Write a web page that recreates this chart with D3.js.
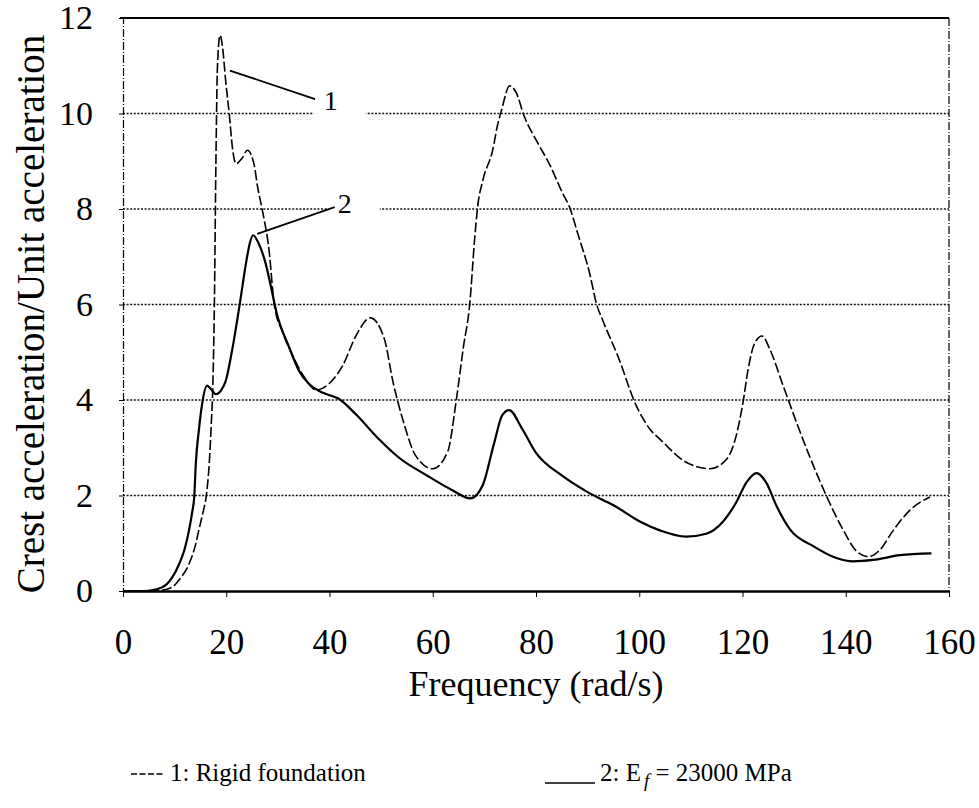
<!DOCTYPE html>
<html><head><meta charset="utf-8">
<script src="https://cdn.jsdelivr.net/npm/d3@7"></script>
<style>
html,body{margin:0;padding:0;background:#fff;}
svg{display:block;}
svg text{font-family:"Liberation Serif","Times New Roman",serif;}
</style></head><body>
<svg id="chart" width="979" height="808"></svg>
<script>
// ---- data ----
const xTicks = [0, 20, 40, 60, 80, 100, 120, 140, 160];
const yTicks = [0, 2, 4, 6, 8, 10, 12];
const xTitle = "Frequency (rad/s)";
const yTitle = "Crest acceleration/Unit acceleration";

// Series 1: rigid foundation [frequency, ratio]
const rigidSeries = [
  [0,0],[5,0],[7,0.01],[9.5,0.08],[11,0.25],[12.8,0.57],[14,0.95],[14.7,1.28],[15.5,1.65],[16.1,1.97],
  [16.7,2.66],[17.1,3.5],[17.4,4.3],[17.7,6.0],[18.0,9.0],[18.3,11.0],[18.8,11.64],[19.3,11.37],[19.9,10.67],
  [20.6,9.97],[21.2,9.28],[21.9,8.95],[23.1,9.07],[24.1,9.23],[25.4,8.93],[26,8.51],[27,7.97],[28.3,7.13],
  [29.3,6.0],[31,5.4],[33,4.9],[35,4.5],[37.5,4.21],[40,4.35],[42.6,4.73],[45.2,5.36],[47.9,5.72],[50.6,5.29],
  [52.3,4.38],[54.5,3.48],[56.6,2.85],[60,2.56],[62.9,2.92],[64.6,4.03],[65.9,5.08],[67.2,6.05],[68.1,7.35],
  [68.7,8.05],[69.7,8.6],[71.6,9.23],[72.6,9.78],[73.3,10.06],[74.9,10.58],[76.1,10.45],[77.8,9.92],[80.1,9.43],
  [82.6,8.94],[85.2,8.32],[86.5,8.04],[88.1,7.48],[90.4,6.65],[91.7,6.02],[93,5.65],[96,4.88],[99.3,3.91],
  [102,3.4],[104.4,3.14],[108.7,2.72],[113.7,2.56],[117,2.77],[118.8,3.26],[120.1,3.95],[121.1,4.65],[122.4,5.2],
  [123.8,5.34],[125.3,5.06],[127.9,4.29],[130.5,3.52],[133,2.82],[136.3,1.98],[139.5,1.28],[142.1,0.83],
  [144.4,0.72],[146.6,0.86],[149.2,1.27],[152.4,1.69],[156.3,1.97]
];

// Series 2: Ef = 23000 MPa [frequency, ratio]
const flexibleSeries = [
  [0,0],[4,0],[7.6,0.08],[9.5,0.28],[10.9,0.57],[12,0.9],[12.8,1.28],[13.4,1.65],[13.8,1.97],[14.1,2.66],
  [14.7,3.37],[15.3,3.9],[16.3,4.3],[17.1,4.22],[18,4.12],[19,4.2],[19.9,4.4],[21.2,5.08],[22.8,6.14],[23.8,6.85],
  [24.6,7.3],[25.2,7.45],[26.2,7.3],[27.7,6.83],[28.8,6.3],[29.7,5.85],[32.2,5.1],[34.1,4.61],[36.1,4.33],[38,4.19],
  [39.5,4.12],[41.7,4.03],[45.2,3.69],[49.4,3.2],[53.6,2.78],[58.7,2.43],[63.8,2.11],[67.3,1.94],[69.7,2.22],
  [71.8,3.06],[73.5,3.69],[74.8,3.79],[77.3,3.4],[79.9,2.91],[85,2.42],[90,2.07],[95.1,1.79],[100.2,1.45],
  [104,1.27],[109.1,1.14],[113,1.2],[116.2,1.45],[118.8,1.86],[120.8,2.28],[122.7,2.47],[124.6,2.27],[126.6,1.78],
  [129.2,1.29],[133.7,0.94],[138.2,0.69],[141.4,0.62],[145.3,0.65],[150.5,0.75],[156.6,0.79]
];

// curve labels: text, pointer start (on curve), pointer end, label baseline start [frequency, ratio]
const curveLabels = ["1", "2"];
const labelFrom = [[20.7, 10.9], [26.0, 7.48]];
const labelTo = [[37.2, 10.3], [41.0, 8.04]];
const labelAt = [[38.9, 10.07], [41.6, 7.92]];

const legendText1 = "1:  Rigid foundation";
const legendText2a = "2:  E";
const legendText2sub = "f";
const legendText2b = " =  23000 MPa";

// ---- drawing ----
const FONT = "Liberation Serif";
const svg = d3.select("#chart");
const x = d3.scaleLinear().domain([0, 160]).range([123, 949]);
const y = d3.scaleLinear().domain([0, 12]).range([591, 18]);

// gridlines
const grid = svg.append("g");
grid.selectAll("line").data(yTicks.filter(d => d > 0 && d < 12)).join("line")
  .attr("x1", x(0)).attr("x2", x(160))
  .attr("y1", d => y(d)).attr("y2", d => y(d))
  .attr("stroke", "#111").attr("stroke-width", 1.4).attr("stroke-dasharray", "2,1.6");

// top border
svg.append("line").attr("x1", x(0) - 3).attr("x2", x(160)).attr("y1", y(12)).attr("y2", y(12))
  .attr("stroke", "#000").attr("stroke-width", 2.2);
// right border (dash-dot)
svg.append("line").attr("x1", x(160)).attr("x2", x(160)).attr("y1", y(12)).attr("y2", y(0))
  .attr("stroke", "#000").attr("stroke-width", 1.2).attr("stroke-dasharray", "8,2,1,2");

// y axis
const yAxis = svg.append("g").attr("transform", `translate(${x(0)},0)`)
  .call(d3.axisLeft(y).tickValues(yTicks).tickSize(4).tickPadding(26).tickFormat(d3.format("d")));
yAxis.attr("font-family", FONT);
yAxis.select(".domain").attr("stroke-dasharray", "8,2,1,2").attr("stroke-width", 1.2);
yAxis.selectAll("text").attr("font-size", 34).attr("font-family", FONT).attr("fill", "#000");

// x axis
const xAxis = svg.append("g").attr("transform", `translate(0,${y(0)})`)
  .call(d3.axisBottom(x).tickValues(xTicks).tickSizeInner(6).tickSizeOuter(0).tickPadding(32).tickFormat(d3.format("d")));
xAxis.attr("font-family", FONT);
xAxis.select(".domain").attr("stroke-width", 2.4);
xAxis.selectAll("text").attr("font-size", 35).attr("font-family", FONT).attr("fill", "#000");

// lines
const line = d3.line().x(d => x(d[0])).y(d => y(d[1])).curve(d3.curveMonotoneX);
svg.append("path").datum(rigidSeries).attr("d", line)
  .attr("fill", "none").attr("stroke", "#000").attr("stroke-width", 1.6).attr("stroke-dasharray", "10,3");
svg.append("path").datum(flexibleSeries).attr("d", line)
  .attr("fill", "none").attr("stroke", "#000").attr("stroke-width", 2.2);

// curve labels with pointer lines
const labG = svg.append("g");
curveLabels.forEach((lab, i) => {
  const g = labG.append("g");
  const bg = g.append("rect").attr("fill", "#fff");
  const t = g.append("text").attr("x", x(labelAt[i][0])).attr("y", y(labelAt[i][1]))
    .attr("font-family", FONT).attr("font-size", 28).text(lab);
  const bb = t.node().getBBox();
  bg.attr("x", bb.x - 10).attr("y", bb.y).attr("width", bb.width + 38).attr("height", bb.height);
  g.append("line").attr("x1", x(labelFrom[i][0])).attr("y1", y(labelFrom[i][1]))
    .attr("x2", x(labelTo[i][0])).attr("y2", y(labelTo[i][1]))
    .attr("stroke", "#000").attr("stroke-width", 1.8);
});

// axis titles
svg.append("text").attr("x", 536).attr("y", 696).attr("text-anchor", "middle")
  .attr("font-family", FONT).attr("font-size", 36).text(xTitle);
svg.append("text").attr("transform", "translate(44,314) rotate(-90)").attr("text-anchor", "middle")
  .attr("font-family", FONT).attr("font-size", 39).text(yTitle);

// legend
const lg = svg.append("g").attr("font-family", FONT).attr("font-size", 25);
lg.append("line").attr("x1", 131).attr("x2", 163).attr("y1", 774).attr("y2", 774)
  .attr("stroke", "#000").attr("stroke-width", 1.6).attr("stroke-dasharray", "6,2.5");
lg.append("text").attr("x", 170).attr("y", 781).text(legendText1);
lg.append("line").attr("x1", 545).attr("x2", 595).attr("y1", 783).attr("y2", 783)
  .attr("stroke", "#000").attr("stroke-width", 1.6);
const t2 = lg.append("text").attr("x", 600).attr("y", 781);
t2.append("tspan").text(legendText2a);
t2.append("tspan").attr("font-style", "italic").attr("font-size", 19).attr("dy", 6).attr("dx", 3).text(legendText2sub);
t2.append("tspan").attr("dy", -6).text(legendText2b);
</script>
</body></html>
